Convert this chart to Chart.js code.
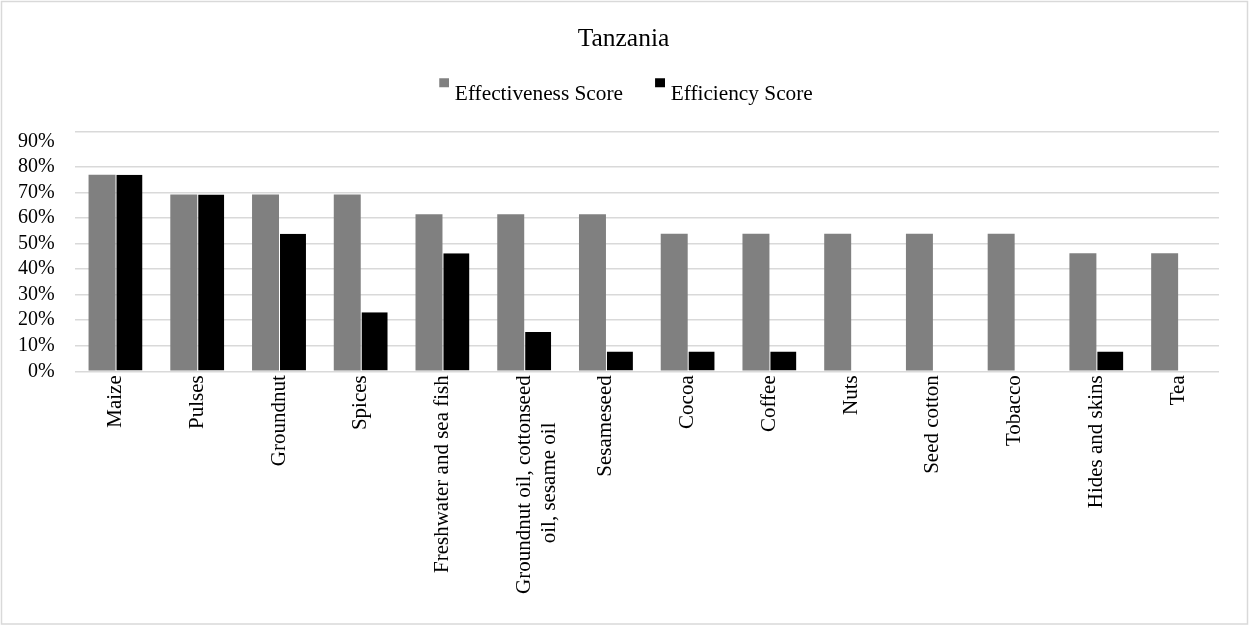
<!DOCTYPE html>
<html>
<head>
<meta charset="utf-8">
<script src="https://cdn.jsdelivr.net/npm/chart.js@4.4.1/dist/chart.umd.min.js"></script>
<style>
  html, body { margin: 0; padding: 0; background: #ffffff; }
  #wrap { width: 1249px; height: 625px; }
</style>
</head>
<body>
<div id="wrap"><canvas id="chart" width="1249" height="625"></canvas></div>
<script>
// Category names (a nested array means a two-line label)
const categories = [
  'Maize', 'Pulses', 'Groundnut', 'Spices', 'Freshwater and sea fish',
  ['Groundnut oil, cottonseed', 'oil, sesame oil'],
  'Sesameseed', 'Cocoa', 'Coffee', 'Nuts', 'Seed cotton', 'Tobacco',
  'Hides and skins', 'Tea'
];
// Scores in percent
const effectiveness = [76.9, 69.2, 69.2, 69.2, 61.5, 61.5, 61.5, 53.8, 53.8, 53.8, 53.8, 53.8, 46.2, 46.2];
const efficiency    = [76.9, 69.2, 53.8, 23.1, 46.2, 15.4, 7.7, 7.7, 7.7, 0, 0, 0, 7.7, 0];
// Labelled y ticks (percent) and the top of the value range
const yTicks = [0, 10, 20, 30, 40, 50, 60, 70, 80, 90];
const yMax = 93.7;

const SERIF = '"Liberation Serif", "Times New Roman", serif';
const GRID = '#d9d9d9';

// Legend marker: small square sitting high next to the text
function legendMarker(color) {
  const c = document.createElement('canvas');
  c.width = 20; c.height = 34;
  const g = c.getContext('2d');
  g.fillStyle = color;
  g.fillRect(10, 1, 10, 9);
  return c;
}

// Center shorter lines of a multi-line rotated label under the longest one
const measureCtx = document.createElement('canvas').getContext('2d');
measureCtx.font = '21px ' + SERIF;
function centerLines(lines) {
  const widths = lines.map(l => measureCtx.measureText(l).width);
  const maxW = Math.max(...widths);
  const sp = measureCtx.measureText(' ').width;
  return lines.map((l, i) => l + ' '.repeat(Math.round((maxW - widths[i]) / 2 / sp)));
}

// Light frame around the whole figure
const framePlugin = {
  id: 'frame',
  beforeDraw(chart) {
    const ctx = chart.ctx;
    ctx.save();
    ctx.fillStyle = '#ffffff';
    ctx.fillRect(0, 0, chart.width, chart.height);
    ctx.strokeStyle = GRID;
    ctx.lineWidth = 1.5;
    ctx.strokeRect(1.5, 1.5, chart.width - 3, chart.height - 2.5);
    ctx.restore();
  }
};

// Extra room below the legend row
const legendGapPlugin = {
  id: 'legendGap',
  beforeUpdate(chart) {
    const legend = chart.legend;
    if (legend && !legend._gapPatched) {
      const fit = legend.fit;
      legend.fit = function () {
        fit.call(this);
        this.height += 17;
      };
      legend._gapPatched = true;
    }
  }
};

new Chart(document.getElementById('chart'), {
  type: 'bar',
  data: {
    labels: categories,
    datasets: [
      {
        label: 'Effectiveness Score',
        data: effectiveness,
        yAxisID: 'y',
        backgroundColor: '#808080',
        pointStyle: legendMarker('#808080'),
        categoryPercentage: 0.66,
        barPercentage: 1.0
      },
      {
        label: 'Efficiency Score',
        data: efficiency,
        yAxisID: 'y',
        backgroundColor: '#000000',
        borderColor: '#ffffff',
        borderWidth: { left: 1, top: 0, right: 0, bottom: 0 },
        borderSkipped: false,
        pointStyle: legendMarker('#000000'),
        categoryPercentage: 0.66,
        barPercentage: 1.0
      }
    ]
  },
  options: {
    responsive: false,
    animation: false,
    devicePixelRatio: 1,
    layout: { padding: { top: 0, left: -2, right: 0, bottom: 27 } },
    plugins: {
      title: {
        display: true,
        text: 'Tanzania',
        color: '#000000',
        font: { family: SERIF, size: 25.5, weight: 'normal' },
        padding: { top: 24, bottom: 2 }
      },
      legend: {
        display: true,
        position: 'top',
        labels: {
          usePointStyle: true,
          boxWidth: 10,
          boxHeight: 10,
          padding: 27,
          color: '#000000',
          font: { family: SERIF, size: 21.3 }
        }
      },
      tooltip: { enabled: false }
    },
    scales: {
      x: {
        grid: { display: false, drawTicks: false },
        border: { display: false },
        ticks: {
          autoSkip: false,
          minRotation: 90,
          maxRotation: 90,
          padding: 4,
          color: '#000000',
          font: { family: SERIF, size: 21 },
          callback: function (value) {
            const lbl = categories[value];
            return Array.isArray(lbl) ? centerLines(lbl) : lbl;
          }
        }
      },
      y: {
        min: 0,
        max: yMax,
        grid: {
          // the 90% row has a label but no line; the frame line sits at the top
          color: ctx => (ctx.tick && ctx.tick.value === 90) ? 'rgba(0,0,0,0)' : GRID,
          lineWidth: 1.5,
          drawTicks: false
        },
        border: { display: false },
        afterBuildTicks: function (scale) {
          scale.ticks = yTicks.map(v => ({ value: v })).concat([{ value: yMax }]);
        },
        ticks: {
          autoSkip: false,
          padding: 20,
          color: '#000000',
          font: { family: SERIF, size: 20 },
          callback: function (value) {
            return yTicks.includes(value) ? value + '%' : '';
          }
        }
      },
      // blank margin on the right of the plot
      yRight: {
        position: 'right',
        display: true,
        grid: { display: false, drawOnChartArea: false, drawTicks: false },
        border: { display: false },
        ticks: { display: false },
        afterFit: function (scale) { scale.width = 30; }
      }
    }
  },
  plugins: [framePlugin, legendGapPlugin]
});
</script>
</body>
</html>
